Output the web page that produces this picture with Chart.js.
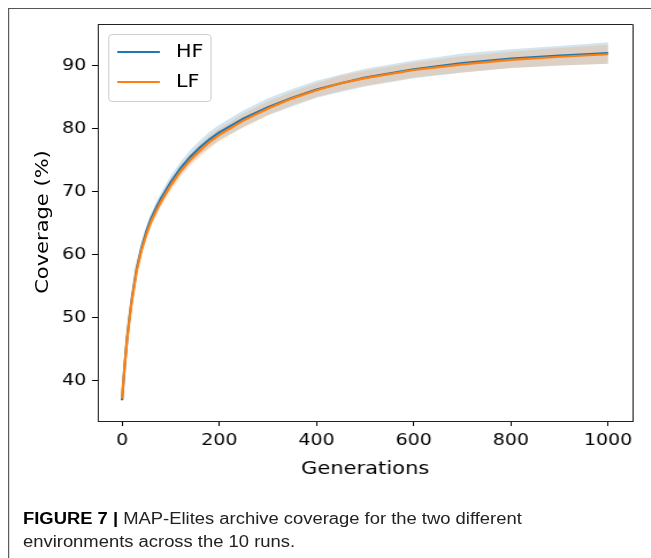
<!DOCTYPE html>
<html>
<head>
<meta charset="utf-8">
<script src="https://cdn.jsdelivr.net/npm/chart.js@4.4.1/dist/chart.umd.min.js"></script>
<style>
	html, body { margin: 0; padding: 0; background: #fff; }
	body { width: 651px; height: 558px; overflow: hidden; position: relative; }
	#fig { position: absolute; left: 0; top: 0; width: 566px; height: 558px; transform: scaleX(1.15); transform-origin: 0 0; }
	#frame { position: absolute; left: 7px; top: 8px; width: 600px; height: 600px; border-top: 1px solid #555; border-left: 1px solid #555; }
	#mycanvas { position: absolute; left: 0; top: 0; }
	#legend { position: absolute; left: 94px; top: 34px; width: 88px; height: 66px; border: 1px solid #d0d0d0; border-radius: 4px; background: rgba(255,255,255,0.8); }
	.sw { position: absolute; left: 7px; width: 37px; height: 2px; }
	.lt { position: absolute; left: 58px; font: 18px "DejaVu Sans"; color: #000; line-height: 20px; }
	#ylab { position: absolute; left: -58px; top: 211px; width: 200px; text-align: center; font: 17.5px "DejaVu Sans"; line-height: 22px; color: #000; transform: rotate(-90deg) scaleX(1.2); transform-origin: 50% 50%; }
	#caption { position: absolute; left: 20px; top: 507px; font: 16px "Liberation Sans", Arial, sans-serif; line-height: 23.4px; color: #222; white-space: nowrap; }
	#caption b { color: #000; }
</style>
</head>
<body>
<div id="fig">
	<div id="frame"></div>
	<canvas id="mycanvas" width="566" height="480"></canvas>
	<div id="legend">
		<div class="sw" style="top:16px;background:#1f77b4"></div>
		<div class="lt" style="top:6px">HF</div>
		<div class="sw" style="top:46px;background:#ff7f0e"></div>
		<div class="lt" style="top:36px">LF</div>
	</div>
	<div id="caption"><b>FIGURE 7 |</b> MAP-Elites archive coverage for the two different<br>environments across the 10 runs.</div>
</div>
<div id="ylab">Coverage (%)</div>
<script>
var gens = [0, 5, 10, 15, 20, 30, 40, 50, 60, 70, 80, 100, 120, 140, 160, 180, 200, 250, 300, 350, 400, 450, 500, 600, 700, 800, 900, 1000];

var hfMean = [36.9, 42.0, 46.5, 49.9, 52.9, 57.8, 61.1, 63.7, 65.8, 67.4, 68.9, 71.5, 73.7, 75.5, 77.0, 78.3, 79.4, 81.6, 83.4, 84.9, 86.2, 87.2, 88.1, 89.4, 90.4, 91.1, 91.6, 92.0];
var hfHigh = [37.2, 42.4, 47.0, 50.4, 53.5, 58.4, 61.8, 64.5, 66.6, 68.3, 69.8, 72.5, 74.7, 76.6, 78.1, 79.5, 80.6, 82.9, 84.8, 86.3, 87.6, 88.6, 89.5, 90.8, 91.9, 92.6, 93.1, 93.7];
var hfLow = [36.6, 41.6, 46.0, 49.4, 52.3, 57.2, 60.4, 62.9, 65.0, 66.5, 68.0, 70.5, 72.7, 74.4, 75.9, 77.1, 78.2, 80.3, 82.1, 83.5, 84.9, 85.8, 86.7, 88.0, 88.9, 89.6, 90.0, 90.3];

var lfMean = [37.2, 42.0, 46.3, 49.6, 52.6, 57.4, 60.7, 63.2, 65.3, 66.9, 68.4, 71.0, 73.2, 75.0, 76.5, 77.9, 79.0, 81.3, 83.2, 84.8, 86.1, 87.2, 88.0, 89.3, 90.2, 90.9, 91.4, 91.8];
var lfHigh = [37.5, 42.4, 46.8, 50.1, 53.1, 58.0, 61.3, 63.9, 66.0, 67.7, 69.2, 71.9, 74.1, 75.9, 77.5, 78.9, 80.0, 82.4, 84.3, 85.9, 87.2, 88.4, 89.2, 90.5, 91.5, 92.2, 92.8, 93.3];
var lfLow = [36.9, 41.6, 45.8, 49.1, 52.1, 56.8, 60.1, 62.5, 64.6, 66.1, 67.6, 70.1, 72.3, 74.1, 75.5, 76.9, 78.0, 80.2, 82.1, 83.7, 85.0, 86.0, 86.8, 88.1, 88.9, 89.6, 90.0, 90.3];

var xTicks = [0, 200, 400, 600, 800, 1000];
var yTicks = [40, 50, 60, 70, 80, 90];

function pts(ys) {
	var out = [];
	for (var i in gens) {
		out.push({x: gens[i], y: ys[i]});
	}
	return out;
}

// top and right spines, matplotlib style
var boxPlugin = {
	id: 'box',
	afterDraw: function(chart) {
		var a = chart.chartArea, ctx = chart.ctx;
		ctx.save();
		ctx.strokeStyle = '#222';
		ctx.lineWidth = 1;
		ctx.beginPath();
		ctx.moveTo(a.left, a.top + 0.5);
		ctx.lineTo(a.right + 0.5, a.top + 0.5);
		ctx.lineTo(a.right + 0.5, a.bottom);
		ctx.stroke();
		ctx.restore();
	}
};

var tickFont = {family: 'DejaVu Sans', size: 16.5};
var titleFont = {family: 'DejaVu Sans', size: 18.3};

var ctx = document.getElementById('mycanvas');

var chart = new Chart(ctx, {
	type: 'line',
	data: {
		datasets: [
			{label: 'LF', data: pts(lfMean), borderColor: '#ff7f0e', borderWidth: 2.2, pointRadius: 0, fill: false, order: 0},
			{label: 'HF', data: pts(hfMean), borderColor: '#1f77b4', borderWidth: 2.2, pointRadius: 0, fill: false, order: 1},
			{label: 'LF high', data: pts(lfHigh), borderWidth: 0, pointRadius: 0, fill: '+1', backgroundColor: 'rgba(255, 127, 14, 0.2)', order: 2},
			{label: 'LF low', data: pts(lfLow), borderWidth: 0, pointRadius: 0, fill: false, order: 2},
			{label: 'HF high', data: pts(hfHigh), borderWidth: 0, pointRadius: 0, fill: '+1', backgroundColor: 'rgba(31, 119, 180, 0.2)', order: 3},
			{label: 'HF low', data: pts(hfLow), borderWidth: 0, pointRadius: 0, fill: false, order: 3}
		]
	},
	options: {
		responsive: false,
		animation: false,
		layout: {padding: {left: 0, top: 24, right: 16, bottom: 0}},
		plugins: {legend: {display: false}, tooltip: {enabled: false}},
		scales: {
			x: {
				type: 'linear',
				min: -50,
				max: 1050,
				afterBuildTicks: function(s) { s.ticks = xTicks.map(function(v) { return {value: v}; }); },
				afterFit: function(s) { s.height = 59; },
				ticks: {font: tickFont, color: '#000', padding: 5, maxRotation: 0, autoSkip: false,
					callback: function(v) { return String(v); }},
				grid: {drawOnChartArea: false, drawTicks: true, tickLength: 5, color: '#000'},
				border: {color: '#222', width: 1},
				title: {display: true, text: 'Generations', font: titleFont, color: '#000', padding: {top: 0, bottom: 0}}
			},
			y: {
				min: 33.6,
				max: 96.6,
				afterBuildTicks: function(s) { s.ticks = yTicks.map(function(v) { return {value: v}; }); },
				afterFit: function(s) { s.width = 85; },
				ticks: {font: tickFont, color: '#000', padding: 5},
				grid: {drawOnChartArea: false, drawTicks: true, tickLength: 5, color: '#000'},
				border: {color: '#222', width: 1},
				title: {display: false}
			}
		}
	},
	plugins: [boxPlugin]
});
</script>
</body>
</html>
